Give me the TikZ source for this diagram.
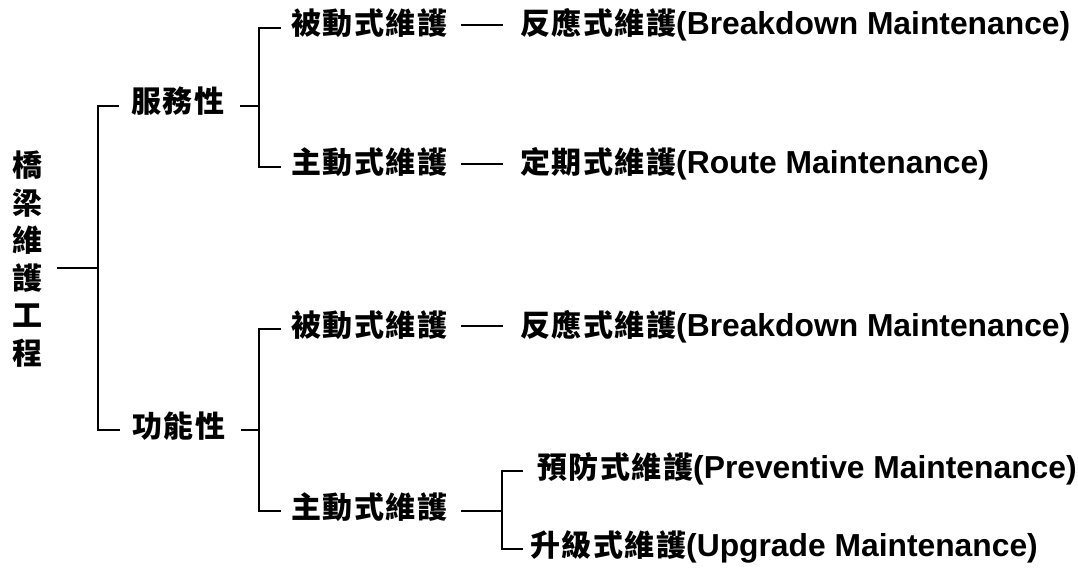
\documentclass[tikz,border=0pt]{standalone}
\usepackage{fontspec}
\setmainfont{Liberation Sans}
\newfontfamily\cjk{Noto Sans CJK TC}
\newlength\cjkgap \setlength\cjkgap{1.5pt}
\makeatletter
\def\spaced#1{\spaced@aux#1\relax}
\def\spaced@aux#1{#1\futurelet\spaced@next\spaced@check}
\def\spaced@check{\ifx\spaced@next\relax\expandafter\@gobble\else\hspace{\cjkgap}\expandafter\spaced@aux\fi}
\makeatother
\newcommand\cjkt[1]{{\cjk\fontsize{30}{36}\selectfont\spaced{#1}}}
\tikzset{
  lbl/.style={anchor=west, inner sep=0pt, text height=22pt, text depth=8pt,
    font=\fontsize{31.8}{38}\selectfont\bfseries},
  rootlbl/.style={anchor=center, inner xsep=14.5pt, inner ysep=0pt, align=center,
    font=\cjk\fontsize{30}{37.6}\selectfont\bfseries},
  conn/.style={line width=2pt, draw=black}
}
\begin{document}
\begin{tikzpicture}[x=1pt,y=-1pt]
\fill[white] (0,0) rectangle (1078,572);
\useasboundingbox (0,0) rectangle (1078,572);

\node[rootlbl] (root) at (27.5,259) {橋\\梁\\維\\護\\工\\程};

\node[lbl] (svc) at (131,106) {\cjkt{服務性}};
\node[lbl] (fun) at (132,430) {\cjkt{功能性}};

\node[lbl] (p1) at (291,28) {\cjkt{被動式維護}};
\node[lbl] (a1) at (291,167) {\cjkt{主動式維護}};
\node[lbl] (r1) at (520,28) {\cjkt{反應式維護}(Breakdown Maintenance)};
\node[lbl] (r2) at (520,167) {\cjkt{定期式維護}(Route Maintenance)};

\node[lbl] (p2) at (291,329) {\cjkt{被動式維護}};
\node[lbl] (a2) at (291,511) {\cjkt{主動式維護}};
\node[lbl] (r3) at (520,329) {\cjkt{反應式維護}(Breakdown Maintenance)};
\node[lbl] (r4) at (537,471) {\cjkt{預防式維護}(Preventive Maintenance)};
\node[lbl] (r5) at (530,549) {\cjkt{升級式維護}(Upgrade Maintenance)};

\coordinate (j0) at (98,268);
\coordinate (j1) at (259,106);
\coordinate (j2) at (259,430);
\coordinate (j3) at (502,511);

\draw[conn] (root.east |- j0) -- (j0);
\draw[conn] ([xshift=-12pt]svc.west) -| (j0) |- ([xshift=-12pt]fun.west);

\draw[conn] ([xshift=16pt]svc.east) -- (j1);
\draw[conn] ([xshift=-10pt]p1.west) -| (j1) |- ([xshift=-10pt]a1.west);
\draw[conn] ([xshift=14pt,yshift=3pt]p1.east) -- ([xshift=-17pt,yshift=3pt]r1.west);
\draw[conn] ([xshift=14pt,yshift=3pt]a1.east) -- ([xshift=-17pt,yshift=3pt]r2.west);

\draw[conn] ([xshift=16pt]fun.east) -- (j2);
\draw[conn] ([xshift=-10pt]p2.west) -| (j2) |- ([xshift=-10pt]a2.west);
\draw[conn] ([xshift=14pt,yshift=3pt]p2.east) -- ([xshift=-17pt,yshift=3pt]r3.west);
\draw[conn] ([xshift=14pt]a2.east) -- (j3);
\draw[conn] ([xshift=-14pt]r4.west) -| (j3) |- ([xshift=-7pt]r5.west);
\end{tikzpicture}
\end{document}
